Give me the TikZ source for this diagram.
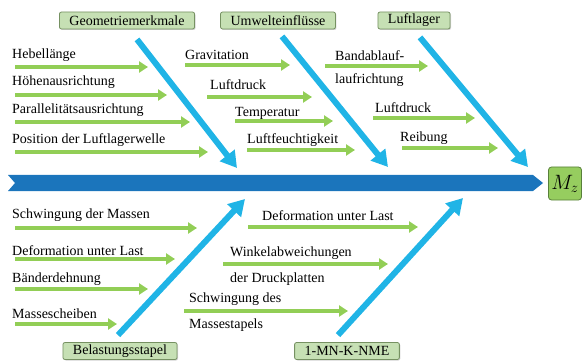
\documentclass[tikz,border=0pt]{standalone}
\usepackage{fontspec}
\setmainfont{Liberation Serif}
\usepackage{tikz}
\usetikzlibrary{arrows.meta,positioning,calc,shadows}
\definecolor{catfill}{RGB}{198,224,180}
\definecolor{catline}{RGB}{118,145,98}
\definecolor{effectfill}{RGB}{150,205,95}
\definecolor{effectline}{RGB}{88,128,58}
\definecolor{spineblue}{RGB}{27,117,188}
\definecolor{bonecyan}{RGB}{32,180,230}
\definecolor{twiggreen}{RGB}{146,206,86}
\tikzset{
    category/.style={rectangle, draw=catline, fill=catfill, rounded corners=2pt, line width=0.8pt, minimum height=17pt, inner xsep=10pt, inner ysep=1pt, font=\fontsize{14}{16}\selectfont, drop shadow={shadow xshift=1pt, shadow yshift=-1pt, opacity=0.35}},
    effect/.style={rectangle, draw=effectline, fill=effectfill, rounded corners=3pt, line width=0.8pt, minimum width=33pt, minimum height=33pt, inner sep=1pt, font=\fontsize{20}{22}\selectfont},
    cause/.style={anchor=west, inner sep=0pt, align=left, font=\fontsize{14}{16}\selectfont},
    bone/.style={draw=bonecyan, line width=6pt, -{Triangle[length=16pt,width=18pt]}},
    twig/.style={draw=twiggreen, line width=3.5pt, -{Triangle[length=9pt,width=11pt]}},
}
\begin{document}
\begin{tikzpicture}[x=1pt, y=-1pt]
    \useasboundingbox (0,0) rectangle (582,361);

    \node[category] (geo) at (127,20.5) {Geometriemerkmale};
    \node[category] (umw) at (278,20.5) {Umwelteinflüsse};
    \node[category] (lager) at (414,20.5) {Luftlager};
    \node[category] (bel) at (120,351) {Belastungsstapel};
    \node[category] (mnk) at (347,351) {1-MN-K-NME};
    \node[effect] (mz) at (565,183.5) {$M_z$};

    % spine
    \fill[spineblue] (8,175) -- (533,175) -- (543,183) -- (533,191) -- (8,191) -- (15,183) -- cycle;

    \coordinate (geo-tip) at (237,168);
    \coordinate (umw-tip) at (388,167);
    \coordinate (lager-tip) at (528,167);
    \coordinate (bel-tip) at (245,199);
    \coordinate (mnk-tip) at (463,198);
    \draw[bone] ($(geo.south)+(10,10)$) -- (geo-tip);
    \draw[bone] ($(umw.south)+(4,7)$) -- (umw-tip);
    \draw[bone] ($(lager.south)+(6,8)$) -- (lager-tip);
    \draw[bone] ($(bel.north)+(-2,-7)$) -- (bel-tip);
    \draw[bone] ($(mnk.north)+(-9,-7)$) -- (mnk-tip);

    % Geometriemerkmale
    \node[cause] (hebel) at (12,55) {Hebellänge};
    \node[cause] (hoehe) at (12,82) {Höhenausrichtung};
    \node[cause] (parallel) at (12,110) {Parallelitätsausrichtung};
    \node[cause] (position) at (12,140) {Position der Luftlagerwelle};
    \coordinate (hebel-tip) at (148,67);
    \coordinate (hoehe-tip) at (167,95);
    \coordinate (parallel-tip) at (190,122);
    \coordinate (position-tip) at (208,152);
    \draw[twig] ([xshift=3pt]hebel.west |- hebel-tip) -- (hebel-tip);
    \draw[twig] ([xshift=3pt]hoehe.west |- hoehe-tip) -- (hoehe-tip);
    \draw[twig] ([xshift=3pt]parallel.west |- parallel-tip) -- (parallel-tip);
    \draw[twig] ([xshift=3pt]position.west |- position-tip) -- (position-tip);

    % Umwelteinfluesse
    \node[cause] (grav) at (185,55) {Gravitation};
    \node[cause] (druck) at (210,85) {Luftdruck};
    \node[cause] (temp) at (235,113) {Temperatur};
    \node[cause] (feucht) at (247,140) {Luftfeuchtigkeit};
    \coordinate (grav-tip) at (290,65);
    \coordinate (druck-tip) at (312,97);
    \coordinate (temp-tip) at (333,121);
    \coordinate (feucht-tip) at (355,150);
    \draw[twig] (grav.west |- grav-tip) -- (grav-tip);
    \draw[twig] ([xshift=-3pt]druck.west |- druck-tip) -- (druck-tip);
    \draw[twig] (temp.west |- temp-tip) -- (temp-tip);
    \draw[twig] (feucht.west |- feucht-tip) -- (feucht-tip);

    % Luftlager
    \node[cause, font=\fontsize{14}{23}\selectfont] (band) at (335,68.5) {Bandablauf-\\laufrichtung};
    \node[cause] (ldruck) at (375,108) {Luftdruck};
    \node[cause] (reib) at (400,138) {Reibung};
    \coordinate (band-tip) at (428,66);
    \coordinate (ldruck-tip) at (475,118);
    \coordinate (reib-tip) at (498,148);
    \draw[twig] ([xshift=-10pt]band.west |- band-tip) -- (band-tip);
    \draw[twig] ([xshift=-2pt]ldruck.west |- ldruck-tip) -- (ldruck-tip);
    \draw[twig] ([xshift=2pt]reib.west |- reib-tip) -- (reib-tip);

    % Belastungsstapel
    \node[cause] (schw) at (12,215) {Schwingung der Massen};
    \node[cause] (deform) at (12,251) {Deformation unter Last};
    \node[cause] (baender) at (12,279) {Bänderdehnung};
    \node[cause] (scheiben) at (12,314) {Massescheiben};
    \coordinate (schw-tip) at (197,228);
    \coordinate (deform-tip) at (175,259);
    \coordinate (baender-tip) at (148,289);
    \coordinate (scheiben-tip) at (117,324);
    \draw[twig] ([xshift=3pt]schw.west |- schw-tip) -- (schw-tip);
    \draw[twig] ([xshift=3pt]deform.west |- deform-tip) -- (deform-tip);
    \draw[twig] ([xshift=3pt]baender.west |- baender-tip) -- (baender-tip);
    \draw[twig] ([xshift=3pt]scheiben.west |- scheiben-tip) -- (scheiben-tip);

    % 1-MN-K-NME
    \node[cause] (mdeform) at (262,216) {Deformation unter Last};
    \node[cause, font=\fontsize{14}{26}\selectfont] (winkel) at (230,266) {Winkelabweichungen\\der Druckplatten};
    \node[cause, font=\fontsize{14}{26}\selectfont] (mschw) at (189,312) {Schwingung des\\Massestapels};
    \coordinate (mdeform-tip) at (418,227);
    \coordinate (winkel-tip) at (388,264);
    \coordinate (mschw-tip) at (348,311);
    \draw[twig] ([xshift=-14pt]mdeform.west |- mdeform-tip) -- (mdeform-tip);
    \draw[twig] ([xshift=-7pt]winkel.west |- winkel-tip) -- (winkel-tip);
    \draw[twig] ([xshift=-5pt]mschw.west |- mschw-tip) -- (mschw-tip);
\end{tikzpicture}
\end{document}
